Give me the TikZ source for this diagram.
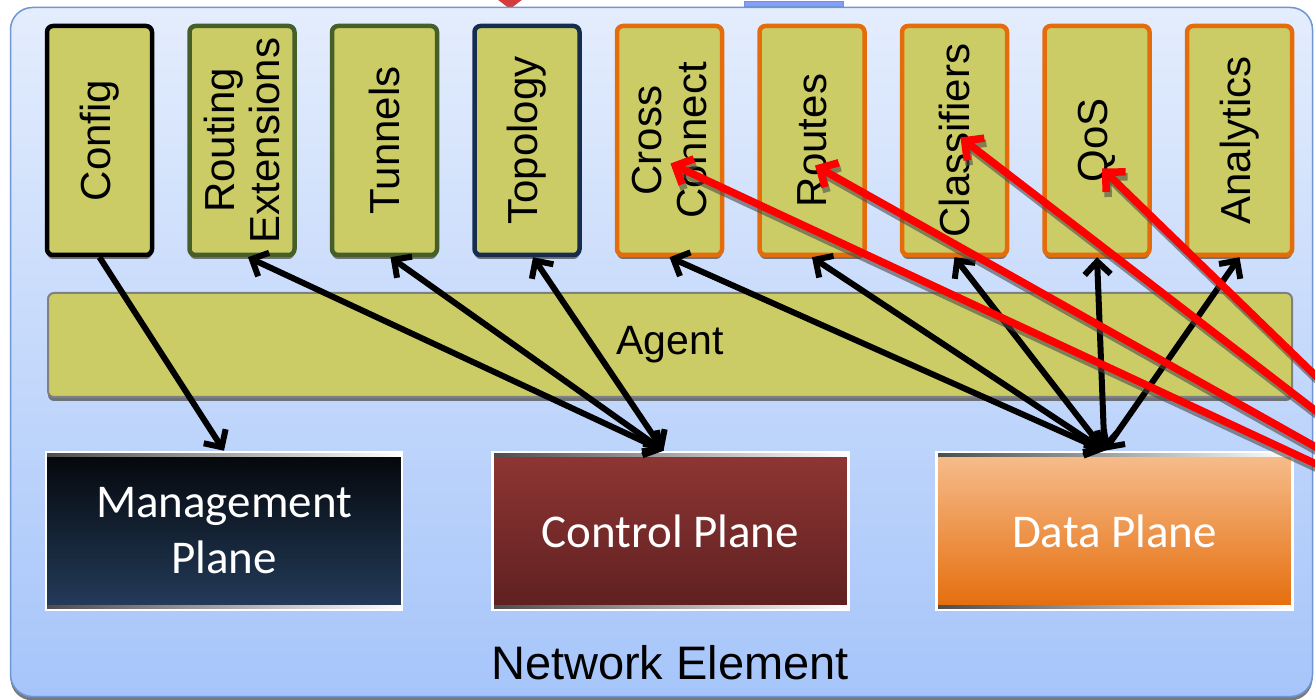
\documentclass[tikz,border=0pt]{standalone}
\usepackage{fontspec}
\setmainfont{Liberation Sans}
\newfontfamily\calibri{Carlito}
\usetikzlibrary{arrows.meta,shadows}

\definecolor{oliva}{RGB}{204,204,102}
\definecolor{naranja}{RGB}{228,108,10}
\definecolor{verde}{RGB}{70,95,40}
\definecolor{marino}{RGB}{23,45,80}
\definecolor{cielo}{RGB}{228,237,253}
\definecolor{cielob}{RGB}{166,197,250}
\definecolor{bordeazul}{RGB}{110,150,210}
\definecolor{diamante}{RGB}{210,60,60}
\definecolor{mgA}{RGB}{4,7,10}
\definecolor{mgB}{RGB}{36,60,92}
\definecolor{cpA}{RGB}{143,54,52}
\definecolor{cpB}{RGB}{94,32,32}
\definecolor{dpA}{RGB}{247,190,142}
\definecolor{dpB}{RGB}{228,108,10}

\tikzset{
  sombra/.style={drop shadow={shadow xshift=0pt,shadow yshift=-4pt,fill=gray!70!black,opacity=.8}},
  modulo/.style={draw, line width=4.5pt, fill=oliva, rounded corners=6pt,
    minimum width=105pt, minimum height=229pt, sombra},
  modtexto/.style={rotate=90, align=center, font=\fontsize{42}{45}\selectfont},
  agente/.style={draw=gray, line width=2pt, fill=oliva, rounded corners=6pt,
    minimum width=1244pt, minimum height=104pt, font=\fontsize{41}{44}\selectfont, sombra},
  plano/.style={draw=white, line width=2.5pt, minimum width=356pt, minimum height=158pt,
    text=white, align=center, font=\calibri\fontsize{47}{56}\selectfont,
    path picture={
      \shade[left color=gray!60!black, right color=white] (path picture bounding box.north west) rectangle ([yshift=-5pt]path picture bounding box.north east);
      \shade[left color=gray!60!black, right color=white] (path picture bounding box.south west) rectangle ([yshift=5pt]path picture bounding box.south east);}},
  flecha/.style={line width=6pt, {Straight Barb[length=13pt,width=26pt]}-{Straight Barb[length=13pt,width=26pt]}},
  flechauna/.style={line width=6pt, -{Straight Barb[length=13pt,width=26pt]}},
  flecharoja/.style={red, line width=7.5pt, -{Straight Barb[length=14pt,width=28pt]}},
  sombraroja/.style={gray!60!black, line width=7.5pt, opacity=.6, -{Straight Barb[length=14pt,width=28pt]}},
}

\begin{document}
\begin{tikzpicture}[x=1pt,y=-1pt]
    \useasboundingbox (0,0) rectangle (1315,700);
    \clip (0,0) rectangle (1315,700);

    % Piezas cortadas arriba
    \fill[diamante] (510,-17) -- (527,-4) -- (510,9) -- (493,-4) -- cycle;
    \draw[bordeazul, fill=cielob!80!blue, line width=1pt] (744,2) rectangle (843,7);

    % Elemento de red
    \node[draw=bordeazul, line width=1.5pt, rounded corners=22pt, top color=cielo, bottom color=cielob,
          minimum width=1302pt, minimum height=689pt, sombra] (ne) at (661.5,352) {};
    \node[font=\fontsize{47}{50}\selectfont] (ne-t) at (670,663) {Network Element};

    % Modulos
    \foreach \n/\t/\c [count=\i from 0] in {cfg/Config/black, rext/{Routing\\Extensions}/verde,
        tun/Tunnels/verde, topo/Topology/marino, cc/{Cross\\Connect}/naranja, rts/Routes/naranja,
        cls/Classifiers/naranja, qos/QoS/naranja, ana/Analytics/naranja}{
      \node[modulo, draw=\c] (\n) at ({99.5+142.5*\i},140.5) {};
      \node[modtexto] (\n-t) at (\n.center) {\t};
    }

    % Agente
    \node[agente] (agent) at (670,345) {Agent};

    % Planos
    \node[plano, top color=mgA, bottom color=mgB] (mgmt) at (224,531) {Management\\Plane};
    \node[plano, top color=cpA, bottom color=cpB] (cp) at (670.5,531) {Control Plane};
    \node[plano, top color=dpA, bottom color=dpB] (dp) at (1114.5,531) {Data Plane};

    % Flechas negras
    \draw[flechauna] (cfg.south) -- (mgmt.north);
    \foreach \m in {rext,tun,topo}
      \draw[flecha] ([xshift=-7pt]cp.north) -- ([xshift=6pt]\m.south);
    \foreach \m in {cc,rts,cls,qos,ana}
      \draw[flecha] ([xshift=-10pt]dp.north) -- (\m.south);

    % Flechas rojas
    \coordinate (fuente) at (1490,545);
    \coordinate (tcc) at ([xshift=1pt,yshift=-23pt]cc.center);
    \coordinate (trts) at ([xshift=3pt,yshift=-25pt]rts.center);
    \coordinate (tcls) at ([xshift=6pt,yshift=3pt]cls.center);
    \coordinate (tqos) at ([xshift=5pt,yshift=-28pt]qos.center);
    \foreach \m in {tcc,trts,tcls,tqos}
      \draw[sombraroja] ([shift={(2pt,-5pt)}]fuente) -- ([shift={(2pt,-5pt)}]\m);
    \foreach \m in {tcc,trts,tcls,tqos}
      \draw[flecharoja] (fuente) -- (\m);
\end{tikzpicture}
\end{document}
